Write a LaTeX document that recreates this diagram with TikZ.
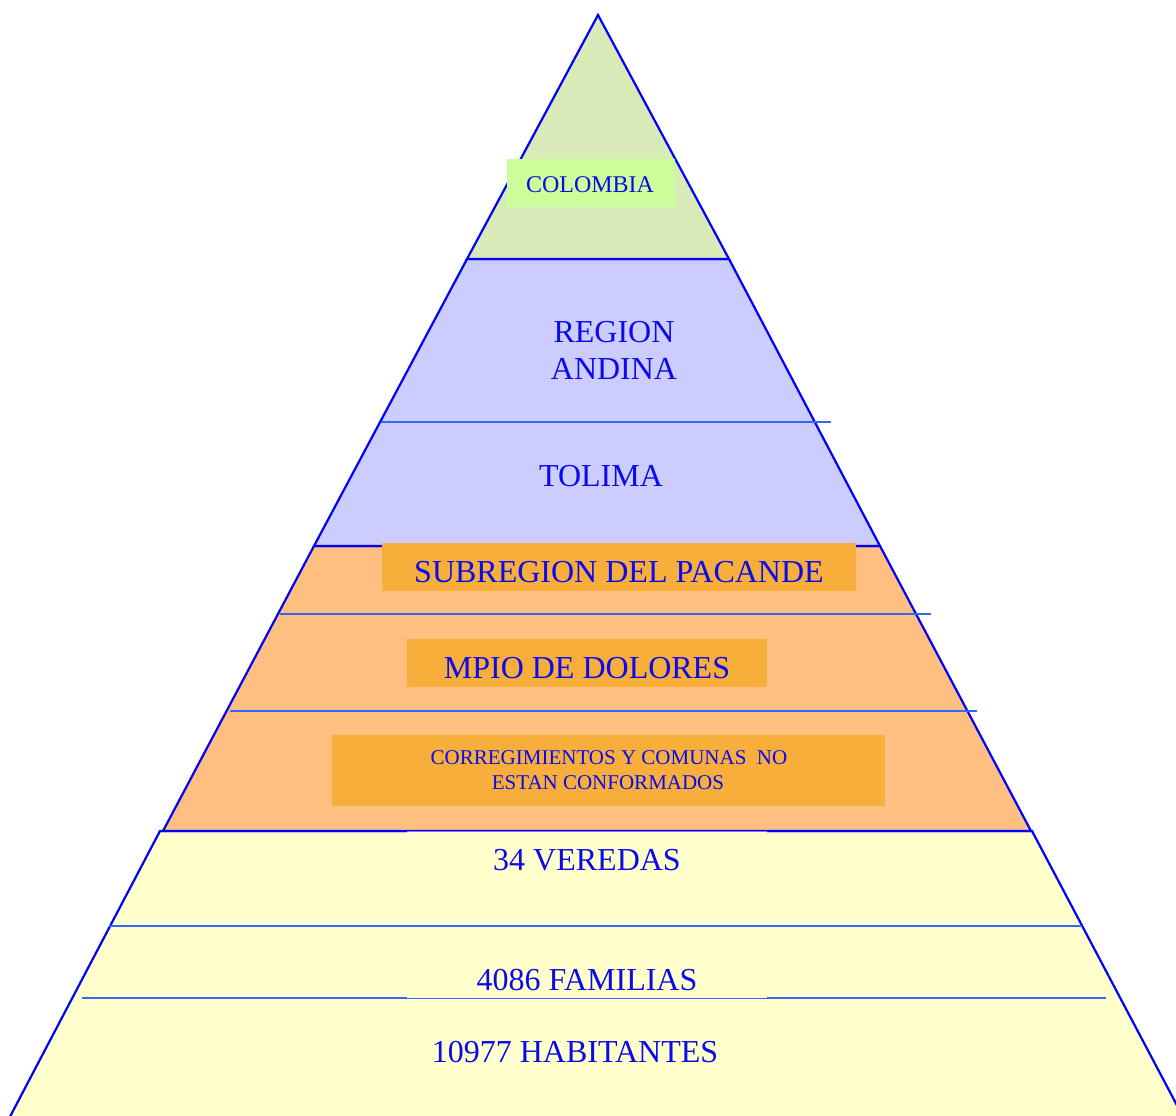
\documentclass[tikz,border=0pt]{standalone}
\usepackage{fontspec}
\setmainfont{Liberation Serif}
\definecolor{outl}{RGB}{0,0,255}
\definecolor{sepcol}{RGB}{51,102,255}
\definecolor{txt}{RGB}{10,10,235}
\definecolor{cgreen}{RGB}{216,234,181}
\definecolor{cgreenbox}{RGB}{204,255,153}
\definecolor{cblue}{RGB}{204,204,255}
\definecolor{corange}{RGB}{255,191,128}
\definecolor{cbox}{RGB}{247,174,59}
\definecolor{cyellow}{RGB}{255,255,204}
\definecolor{cpurple}{RGB}{150,110,220}
\tikzset{
  tier/.style={draw=outl, line width=2.2pt, line join=miter},
  sep/.style={draw=sepcol, line width=2pt},
  lbl/.style={text=txt, inner sep=0pt, anchor=base, font=\fontsize{32}{37}\selectfont},
  lblsmall/.style={lbl, font=\fontsize{24}{28}\selectfont},
  lbltiny/.style={lbl, font=\fontsize{21}{25}\selectfont},
}
\begin{document}
\begin{tikzpicture}[x=1pt,y=-1pt]
\useasboundingbox (0,0) rectangle (1176,1116);
\clip (0,0) rectangle (1176,1116);
% tiers
\filldraw[tier, fill=cyellow] (160,831) -- (1032,831) -- (1190,1130) -- (3,1130) -- cycle;
\filldraw[tier, fill=corange] (314,546) -- (880,546) -- (1031,831) -- (163,831) -- cycle;
\filldraw[tier, fill=cblue] (467,259) -- (729,259) -- (880,546) -- (314,546) -- cycle;
\filldraw[tier, fill=cgreen] (598,15) -- (729,259) -- (467,259) -- cycle;
% yellow text area covering outline
\fill[cyellow] (407,832.2) rectangle (767,997);
\draw[cpurple, line width=0.8pt] (407,831) -- (767,831);
% separator lines
\coordinate (s1a) at (381,422); \coordinate (s1b) at (831,422);
\coordinate (s2a) at (280,614); \coordinate (s2b) at (931,614);
\coordinate (s3a) at (230,711); \coordinate (s3b) at (977,711);
\coordinate (s4a) at (109,926); \coordinate (s4b) at (1082,926);
\coordinate (s5a) at (82,998);  \coordinate (s5m1) at (407,998);
\coordinate (s5m2) at (767,998); \coordinate (s5b) at (1106,998);
\draw[sep] (s1a) -- (s1b);
\draw[sep] (s2a) -- (s2b);
\draw[sep] (s3a) -- (s3b);
\draw[sep] (s4a) -- (s4b);
\draw[sep] (s5a) -- (s5m1);
\draw[sep] (s5m2) -- (s5b);
\draw[draw=sepcol, line width=0.9pt] (s5m1) -- (s5m2);
% boxes
\fill[cgreenbox] (507,159) rectangle (675,207);
\fill[cbox] (382,543) rectangle (856,591);
\fill[cbox] (407,639) rectangle (767,687);
\fill[cbox] (332,735) rectangle (885,806);
% labels
\node[lblsmall] (colombia) at (590,192) {COLOMBIA};
\node[lbl] (region) at (614,342) {REGION};
\node[lbl] (andina) at (614,379) {ANDINA};
\node[lbl] (tolima) at (601,486) {TOLIMA};
\node[lbl] (subregion) at (619,582) {SUBREGION DEL PACANDE};
\node[lbl] (mpio) at (587,678) {MPIO DE DOLORES};
\node[lbltiny] (corr1) at (609,764) {CORREGIMIENTOS Y COMUNAS\ \ NO};
\node[lbltiny] (corr2) at (608,789) {ESTAN CONFORMADOS};
\node[lbl] (veredas) at (587,870) {34 VEREDAS};
\node[lbl] (familias) at (587,990) {4086 FAMILIAS};
\node[lbl] (habitantes) at (575,1062) {10977 HABITANTES};
\end{tikzpicture}
\end{document}
